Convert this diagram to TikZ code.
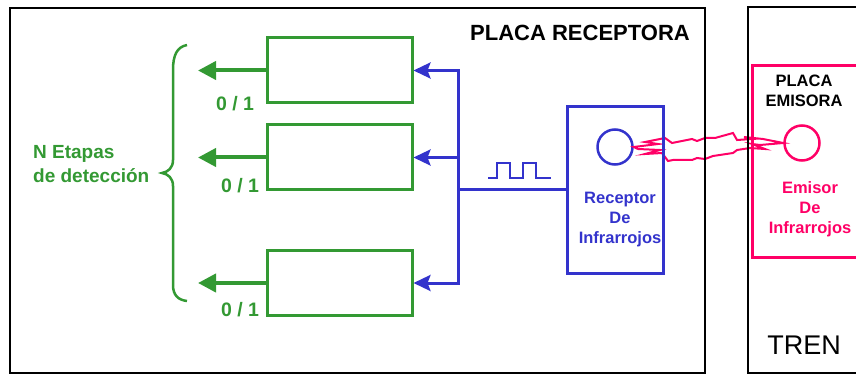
\documentclass[tikz,border=0pt]{standalone}
\usepackage{fontspec}
\setmainfont{Liberation Sans}
\usetikzlibrary{arrows.meta}
\definecolor{stagegreen}{RGB}{51,153,51}
\definecolor{rxblue}{RGB}{51,51,204}
\definecolor{irpink}{RGB}{255,0,102}

\begin{document}
\begin{tikzpicture}[x=1pt,y=-1pt,
  frame/.style={draw=black,line width=2.5pt},
  stagebox/.style={draw=stagegreen,line width=3pt,minimum width=145pt,
    minimum height=65pt,inner sep=0pt},
  rxbox/.style={draw=rxblue,line width=3pt,minimum width=96pt,
    minimum height=166pt,inner sep=0pt},
  ircircle/.style={circle,line width=2.5pt,minimum size=35pt,inner sep=0pt},
  label16/.style={inner sep=0pt,align=center,
    font=\bfseries\fontsize{16.5}{20}\selectfont},
  bitlabel/.style={inner sep=0pt,text=stagegreen,
    font=\bfseries\fontsize{19.5}{23}\selectfont},
  busline/.style={draw=rxblue,line width=3pt},
  bustip/.tip={Stealth[length=17pt,width=16pt,inset=3pt]},
  busarrow/.style={busline,-bustip},
  outarrow/.style={draw=stagegreen,line width=4pt,
    -{Triangle[length=18pt,width=18pt]}},
  irlink/.style={draw=irpink,line width=2pt,line join=miter},
]
\useasboundingbox (0,0) rectangle (856,374);

% infrared emitter and receiver diodes
\node[ircircle,draw=rxblue] (rc) at (615,147) {};
\node[ircircle,draw=irpink] (ec) at (802,143) {};

% infrared beam between the diodes
\draw[irlink] (rc.east) -- (658,144) -- (645,142) -- (665,138) -- (672,143)
  -- (692,139) -- (697,141) -- (705,138) -- (715,138) -- (733,133)
  -- (737,140) -- (752,139) -- (744,137) -- (763,139) -- (ec.west)
  -- (760,145) -- (752,144) -- (765,149) -- (750,148) -- (737,150)
  -- (733,153) -- (713,156) -- (705,159) -- (697,158) -- (692,160)
  -- (673,160) -- (668,161) -- (662,153) -- (645,154) -- (660,150)
  -- (638,149) -- cycle;

% boards
\draw[frame] (10,8) rectangle (705,373);
\draw[frame] (748,7) rectangle (880,373);
\draw[draw=irpink,line width=3pt] (752,66) rectangle (880,257);

% titles
\node[inner sep=0pt,font=\bfseries\fontsize{22}{26}\selectfont] (trx) at (580,33) {PLACA RECEPTORA};
\node[label16] (ttx) at (804,90.5) {PLACA\\EMISORA};
\node[inner sep=0pt,font=\fontsize{27}{32}\selectfont] (tren) at (804,345) {TREN};

% receiver and emitter blocks
\node[rxbox] (rx) at (615,190) {};
\node[label16,text=rxblue] (rxt) at (620,220) {Receptor\\De\\Infrarrojos};
\node[label16,text=irpink] (txt) at (810,209) {Emisor\\De\\Infrarrojos};

% detection stages
\node[stagebox] (s1) at (339.5,70.5) {};
\node[stagebox] (s2) at (339.5,157.5) {};
\node[stagebox] (s3) at (339.5,283) {};

% signal bus from the receiver to the stages
\coordinate (bus) at (458,0);
\coordinate (out) at (198,0);
\draw[busline] (rx.west) -- (rx.west -| bus);
\draw[busline,bustip-bustip]
  (s1.east) -- (s1.east -| bus) -- (s3.east -| bus) -- (s3.east);
\draw[busarrow] (s2.east -| bus) -- (s2.east);

% pulse train on the bus
\draw[draw=rxblue,line width=1.3pt] (488,178) -- (497,178) -- (497,163) -- (510,163)
  -- (510,178) -- (523,178) -- (523,163) -- (536,163) -- (536,178) -- (551,178);

% stage outputs
\draw[outarrow] (s1.west) -- (s1.west -| out);
\draw[outarrow] (s2.west) -- (s2.west -| out);
\draw[outarrow] (s3.west) -- (s3.west -| out);
\node[bitlabel] (b1) at (235,104) {0 / 1};
\node[bitlabel] (b2) at (240,186) {0 / 1};
\node[bitlabel] (b3) at (240,310) {0 / 1};

% brace grouping the stages
\draw[draw=stagegreen,line width=2.5pt] (187,45) .. controls (177,47) and (173,55) .. (173,70)
  -- (173,160) .. controls (173,168) and (168,172) .. (162,173)
  .. controls (168,174) and (173,178) .. (173,186)
  -- (173,285) .. controls (173,295) and (178,300) .. (187,301);
\node[inner sep=0pt,anchor=west,align=left,text=stagegreen,
  font=\bfseries\fontsize{19}{23.5}\selectfont] (stg) at (33,164) {N Etapas\\de detección};
\end{tikzpicture}
\end{document}
